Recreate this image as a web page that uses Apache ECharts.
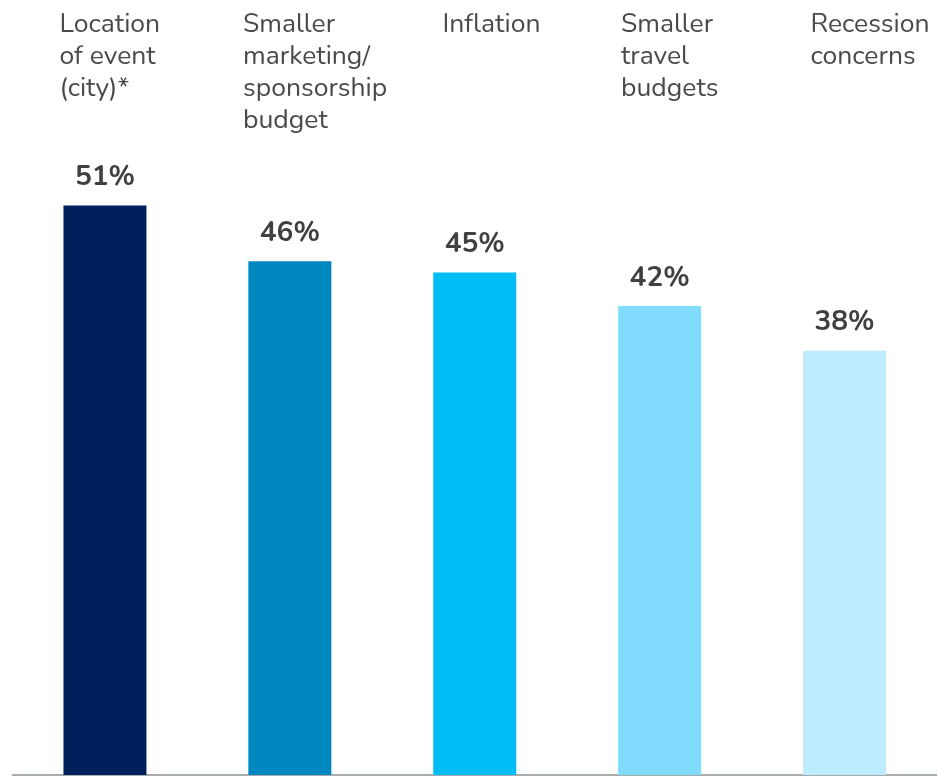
<!DOCTYPE html>
<html>
<head>
<meta charset="utf-8">
<script src="https://cdn.jsdelivr.net/npm/echarts@6/dist/echarts.min.js"></script>
<style>
html,body{margin:0;padding:0;background:#fff;}
#chart{width:937px;height:777px;}
</style>
</head>
<body>
<div id="chart"></div>
<script>
const categories = [
  "Location\nof event\n(city)*",
  "Smaller\nmarketing/\nsponsorship\nbudget",
  "Inflation",
  "Smaller\ntravel\nbudgets",
  "Recession\nconcerns"
];
const values = [51, 46, 45, 42, 38];
const barColors = ["#001f5b", "#0087bf", "#00bef5", "#80dbff", "#bdecff"];
const labelPads = [2, 0, 14, 7, 11];

const FONT = "Nunito, 'Open Sans', Lato, sans-serif";

const rich = {};
labelPads.forEach((p, i) => {
  rich['c' + i] = {
    fontFamily: FONT, fontSize: 26.5, color: '#4a4a4a',
    lineHeight: 32, padding: [0, 0, 0, p], align: 'left'
  };
});

const chart = echarts.init(document.getElementById('chart'));
chart.setOption({
  animation: false,
  grid: [
    { left: 12.5, width: 925, top: 105, bottom: 2, containLabel: false },
    { left: 57.5, width: 742, top: 0, height: 1, containLabel: false }
  ],
  xAxis: [
    {
      type: 'category', gridIndex: 0, data: categories,
      axisLine: { show: true, lineStyle: { color: '#a9acac', width: 2 } },
      axisTick: { show: false },
      axisLabel: { show: false }
    },
    {
      type: 'category', gridIndex: 1, data: categories, boundaryGap: false,
      position: 'bottom',
      axisLine: { show: false }, axisTick: { show: false },
      axisLabel: {
        show: true, interval: 0, margin: 9, align: 'left', verticalAlign: 'top',
        formatter: function (val, idx) {
          return val.split('\n').map(l => '{c' + idx + '|' + l + '}').join('\n');
        },
        rich: rich
      }
    }
  ],
  yAxis: [
    { type: 'value', gridIndex: 0, min: 0, max: 60, show: false, splitLine: { show: false } },
    { type: 'value', gridIndex: 1, show: false, splitLine: { show: false } }
  ],
  series: [{
    type: 'bar',
    xAxisIndex: 0, yAxisIndex: 0,
    barWidth: 83,
    data: values.map((v, i) => ({ value: v, itemStyle: { color: barColors[i] } })),
    label: {
      show: true, position: 'top', distance: 13,
      formatter: '{c}%',
      fontFamily: FONT, fontSize: 28, fontWeight: 'bold', color: '#404040'
    }
  }]
});
</script>
</body>
</html>
